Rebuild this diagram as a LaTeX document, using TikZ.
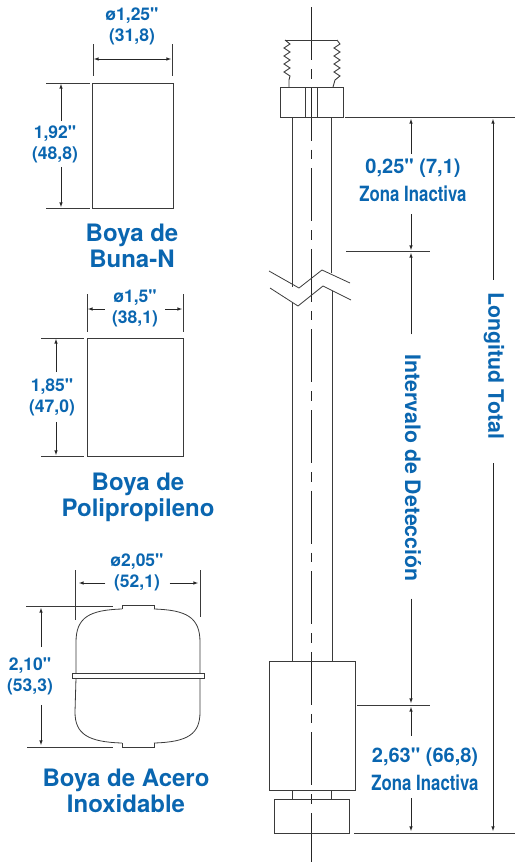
\documentclass[tikz,border=0pt]{standalone}
\usepackage{fontspec}
\setmainfont[Ligatures=TeXOff]{TeX Gyre Heros}
\newfontfamily\narrowfont[FakeStretch=0.8,Ligatures=TeXOff]{TeX Gyre Heros}
\usetikzlibrary{arrows}
\definecolor{boyablue}{HTML}{0A66B0}
\definecolor{linegray}{HTML}{3A3A3A}
\tikzset{
  part/.style={draw=linegray, line width=0.9pt},
  thin line/.style={draw=linegray, line width=0.8pt},
  center line/.style={draw=black!85, line width=0.8pt, dash pattern=on 53pt off 9pt on 9.6pt off 9pt},
  dim/.style={draw=black!85, line width=0.6pt, -latex},
  dimlabel/.style={font=\bfseries\fontsize{17.5}{21}\selectfont, text=boyablue, align=center, inner sep=1pt},
  title/.style={font=\bfseries\fontsize{24}{26}\selectfont, text=boyablue, align=center, inner sep=0pt},
  midlabel/.style={font=\bfseries\fontsize{20}{24}\selectfont, text=boyablue, inner sep=0pt},
  sidelabel/.style={font=\bfseries\fontsize{21.3}{24}\selectfont, text=boyablue, inner sep=0pt},
  zonelabel/.style={font=\narrowfont\bfseries\fontsize{21}{24}\selectfont, text=boyablue, inner sep=0pt}
}
\begin{document}
\begin{tikzpicture}[x=1pt,y=-1pt]
\useasboundingbox (0,0) rectangle (517,863);
% first float
\draw[part] (92,83) rectangle (173,208);
\draw[thin line] (93,44) -- (93,76) (172,44) -- (172,76);
\draw[thin line] (46,83) -- (90,83) (46,208) -- (90,208);
\draw[dim, latex-latex] (94,59) -- (171,59);
\node[dimlabel] (dimA) at (132,26) {ø1,25"\\(31,8)};
\node[dimlabel] (dimB) at (55,144) {1,92"\\(48,8)};
\coordinate (bt) at (61,84);
\coordinate (bb) at (61,207);
\draw[dim] (bt |- dimB.north) ++(0,-3) -- (bt);
\draw[dim] (bb |- dimB.south) ++(0,3) -- (bb);
\node[title] (buna) at (132,246) {Boya de\\Buna-N};
% second float
\draw[part] (87,338) rectangle (183,456);
\draw[thin line] (87,294) -- (87,332) (183,294) -- (183,332);
\draw[thin line] (41,338) -- (84,338) (41,456) -- (84,456);
\node[dimlabel] (dimC) at (135,308) {ø1,5"\\(38,1)};
\coordinate (cl) at (88,309);
\coordinate (cr) at (182,309);
\draw[dim] (dimC.west |- cl) ++(-6,0) -- (cl);
\draw[dim] (dimC.east |- cr) ++(6,0) -- (cr);
\node[dimlabel] (dimD) at (52,397) {1,85"\\(47,0)};
\coordinate (dt) at (56,339);
\coordinate (db) at (56,455);
\draw[dim] (dt |- dimD.north) ++(0,-5) -- (dt);
\draw[dim] (db |- dimD.south) ++(0,5) -- (db);
\node[title] (poli) at (138,497) {Boya de\\Polipropileno};
% third float
\draw[part, line width=0.8pt] (122,609) .. controls (90,610) and (76,617) .. (76,642) -- (76,673);
\draw[part, line width=0.8pt] (154,609) .. controls (186,610) and (200,617) .. (200,642) -- (200,673);
\draw[part, line width=0.8pt] (76,678) -- (75,712) .. controls (75,734) and (88,742) .. (122,743);
\draw[part, line width=0.8pt] (200,678) -- (200,712) .. controls (200,734) and (188,742) .. (154,743);
\draw[part, line width=0.8pt] (72,673) rectangle (204,678);
\draw[part, line width=0.7pt] (122,609) -- (122,605) -- (154,605) -- (154,609);
\draw[part, line width=0.7pt] (122,743) -- (122,747) -- (154,747) -- (154,743);
\draw[thin line] (75,570) -- (75,620) (200,570) -- (200,617);
\draw[thin line] (26,606) -- (113,606) (27,747) -- (113,747);
\node[dimlabel] (dimE) at (137,572.5) {ø2,05"\\(52,1)};
\coordinate (el) at (79,583);
\coordinate (er) at (198,583);
\draw[dim] (dimE.west |- el) ++(-4,0) -- (el);
\draw[dim] (dimE.east |- er) ++(5,0) -- (er);
\node[dimlabel] (dimF) at (30,676) {2,10"\\(53,3)};
\coordinate (ft) at (41,608);
\coordinate (fb) at (41,745);
\draw[dim] (ft |- dimF.north) ++(0,-9) -- (ft);
\draw[dim] (fb |- dimF.south) ++(0,9) -- (fb);
\node[title] (acero) at (126,791) {Boya de Acero\\Inoxidable};
% stem
\draw[center line] (311.5,7) -- (311.5,862);
\draw[part] (285,40) -- (337,40);
\draw[part] (285,40) -- (290,44) -- (284,48) -- (290,52) -- (284,56) -- (290,60) -- (284,64) -- (290,68) -- (284,72) -- (290,76) -- (289,80) -- (289,87);
\draw[part] (337,40) -- (340,44) -- (334,48) -- (340,52) -- (334,56) -- (340,60) -- (334,64) -- (340,68) -- (334,72) -- (340,76) -- (335,80) -- (333,87);
\draw[part] (280,87) rectangle (343,117);
\draw[part] (305,87) -- (305,117) (317,87) -- (317,117);
\draw[part] (292,117) -- (292,287) (331,117) -- (331,273);
\draw[part] (292,303) -- (292,661) (332,291) -- (332,661);
\draw[thin line] (269,271) -- (299,288) -- (322,270) -- (350,283);
\draw[thin line] (270,288) -- (298,306) -- (323,286) -- (351,300);
\draw[part] (269,661) rectangle (355,790);
\draw[part] (292,790) -- (292,799) (331,790) -- (331,799);
\draw[part] (274,799) rectangle (349,833);
% dimensions of the stem
\draw[thin line] (345,117) -- (515,117) (346,251) -- (430,251);
\draw[thin line] (357,705) -- (430,705) (354,833) -- (515,833);
\coordinate (zt) at (411,119);
\coordinate (zb) at (411,250);
\coordinate (it) at (411,253);
\coordinate (ib) at (411,703);
\coordinate (yt) at (411,707);
\coordinate (yb) at (411,831);
\coordinate (lt) at (493,119);
\coordinate (lb) at (493,831);
\node[midlabel] (zonaA) at (413,168) {0,25" (7,1)};
\node[zonelabel] (inacA) at (413,194) {Zona Inactiva};
\draw[dim] (zt |- zonaA.north) ++(0,-5) -- (zt);
\draw[dim] (zb |- inacA.south) ++(0,12) -- (zb);
\node[sidelabel, rotate=-90] (interv) at (413,468) {Intervalo de Detección};
\draw[dim] (it |- interv.west) ++(0,-20) -- (it);
\draw[dim] (ib |- interv.east) ++(0,17) -- (ib);
\node[midlabel] (zonaB) at (425,757) {2,63" (66,8)};
\node[zonelabel] (inacB) at (425,783) {Zona Inactiva};
\draw[dim] (yt |- zonaB.north) ++(0,-12) -- (yt);
\draw[dim] (yb |- inacB.south) ++(0,7) -- (yb);
\node[sidelabel, rotate=-90] (total) at (494,366) {Longitud Total};
\draw[dim] (lt |- total.west) ++(0,-13) -- (lt);
\draw[dim] (lb |- total.east) ++(0,24) -- (lb);
\end{tikzpicture}
\end{document}
